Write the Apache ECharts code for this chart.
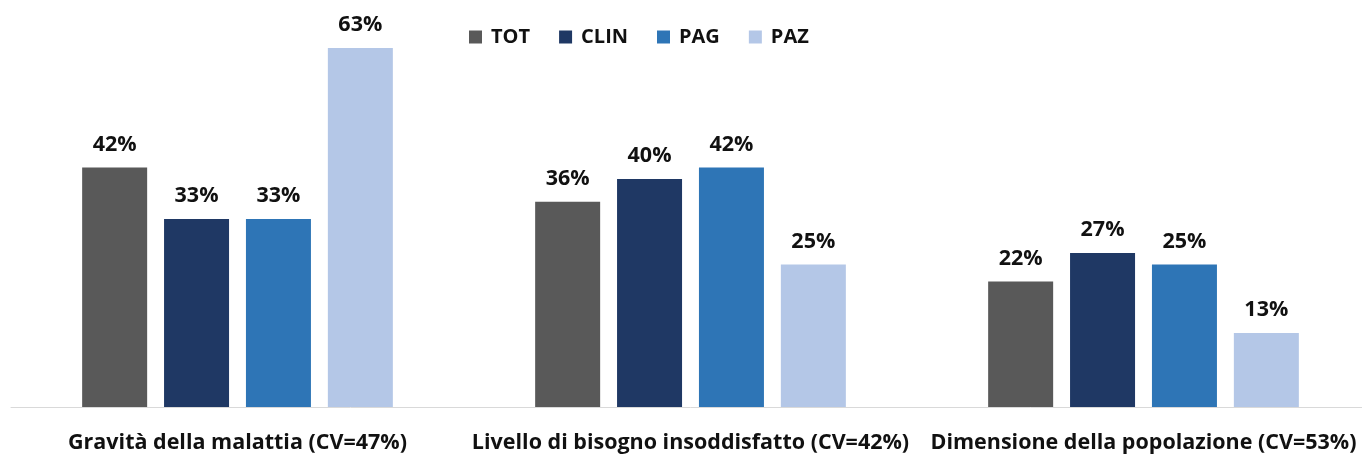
<!DOCTYPE html>
<html><head><meta charset="utf-8">
<script src="https://cdn.jsdelivr.net/npm/echarts@6/dist/echarts.min.js"></script>
<style>html,body{margin:0;padding:0;background:#fff;overflow:hidden}#c{width:1370px;height:454px}</style>
</head><body><div id="c"></div>
<script>
const categories = ['Gravità della malattia (CV=47%)', 'Livello di bisogno insoddisfatto (CV=42%)', 'Dimensione della popolazione (CV=53%)'];
const seriesNames = ['TOT', 'CLIN', 'PAG', 'PAZ'];
const TOT = [42, 36, 22];
const CLIN = [33, 40, 27];
const PAG = [33, 42, 25];
const PAZ = [63, 25, 13];
const colors = ['#595959', '#1f3864', '#2e75b6', '#b4c7e7'];
const values = [TOT, CLIN, PAG, PAZ];
const font = 'Open Sans';
const chart = echarts.init(document.getElementById('c'));
chart.setOption({
  animation: false,
  color: colors,
  legend: {
    top: 22, left: 464, itemWidth: 13, itemHeight: 13, itemGap: 29,
    icon: 'rect',
    textStyle: {fontFamily: font, fontWeight: 'bold', fontSize: 20, color: '#111', padding: [0, 0, 0, 4]}
  },
  grid: {left: 11, right: 0, top: 8, bottom: 45, containLabel: false},
  xAxis: {
    type: 'category', data: categories,
    axisLine: {lineStyle: {color: '#d9d9d9', width: 1}},
    axisTick: {show: false},
    axisLabel: {fontFamily: font, fontWeight: 'bold', fontSize: 21.5, color: '#111', margin: 25, interval: 0}
  },
  yAxis: {type: 'value', min: 0, max: 70, show: false, splitLine: {show: false}},
  series: seriesNames.map((n, i) => ({
    name: n, type: 'bar', data: values[i], barWidth: 65, barGap: '26%',
    itemStyle: {color: colors[i]},
    label: {show: true, position: 'top', distance: 12, formatter: '{c}%',
      fontFamily: font, fontWeight: 'bold', fontSize: 21.5, color: '#111'}
  }))
});
</script></body></html>
